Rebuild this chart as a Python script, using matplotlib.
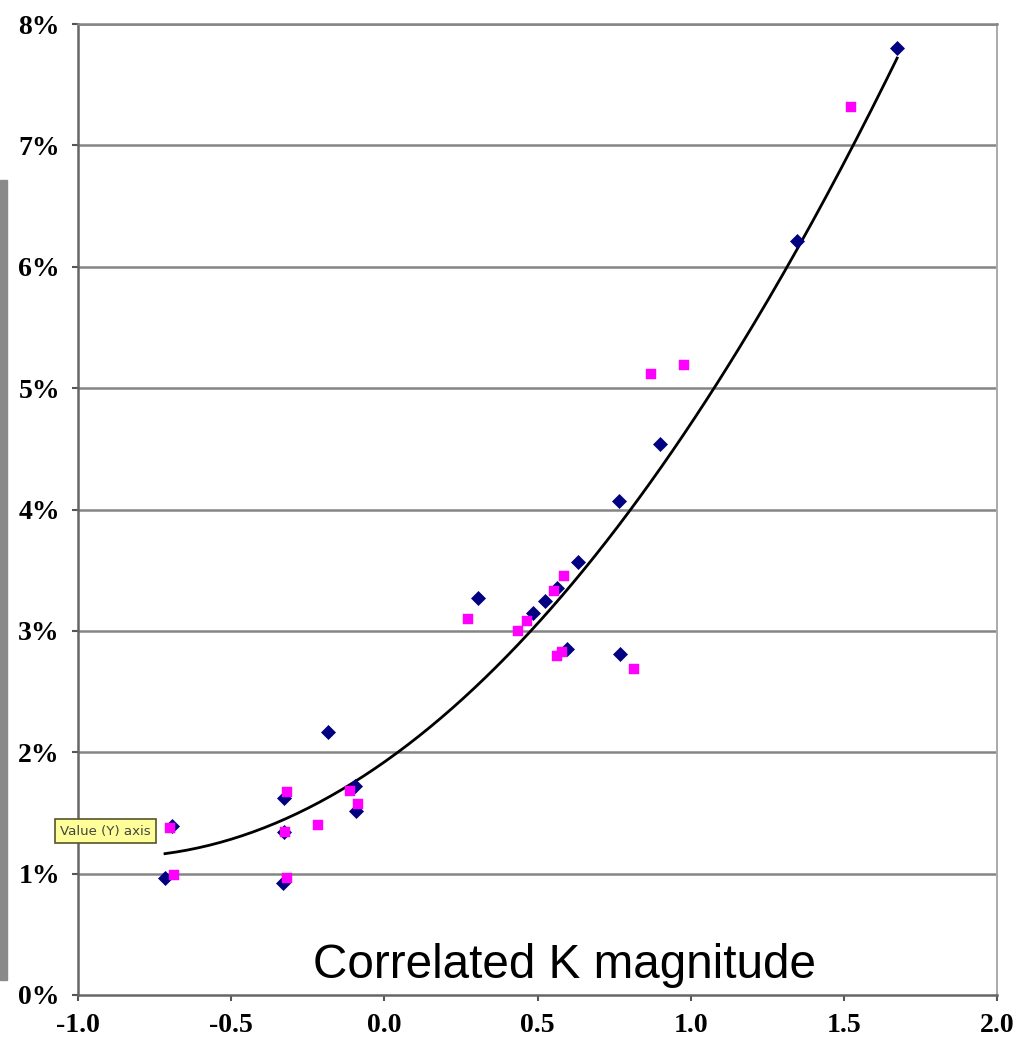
import numpy as np
import matplotlib
matplotlib.use("Agg")
import matplotlib.pyplot as plt
from matplotlib.patches import Rectangle

# Data
navy_x = [-0.716, -0.693, -0.327, -0.327, -0.331, -0.184, -0.096, -0.092,
          0.306, 0.486, 0.525, 0.564, 0.632, 0.596, 0.770, 0.766, 0.900,
          1.347, 1.674]
navy_y = [0.96, 1.39, 1.62, 1.34, 0.92, 2.17, 1.72, 1.52,
          3.27, 3.15, 3.25, 3.35, 3.57, 2.85, 2.81, 4.07, 4.54,
          6.21, 7.80]
pink_x = [-0.700, -0.687, -0.318, -0.324, -0.318, -0.216, -0.112, -0.086,
          0.273, 0.437, 0.466, 0.554, 0.587, 0.564, 0.580, 0.815, 0.871,
          0.978, 1.524]
pink_y = [1.38, 0.99, 1.67, 1.34, 0.96, 1.40, 1.68, 1.57,
          3.10, 3.00, 3.08, 3.33, 3.45, 2.79, 2.83, 2.69, 5.12,
          5.19, 7.32]
x_ticks = [-1.0, -0.5, 0.0, 0.5, 1.0, 1.5, 2.0]
y_ticks = [0, 1, 2, 3, 4, 5, 6, 7, 8]
y_tick_labels = [f"{v}%" for v in y_ticks]

W, H = 1017, 1040
fig = plt.figure(figsize=(W / 100, H / 100), dpi=100)
fig.patch.set_facecolor("white")
ax = fig.add_axes([78 / W, 1 - 995 / H, (997 - 78) / W, (995 - 24) / H])

ax.set_xlim(-1.0, 2.0)
ax.set_ylim(0, 8)

# gridlines
for v in y_ticks[1:]:
    ax.axhline(v, color="#858585", lw=1.8, zorder=1)

# trendline (2nd-order polynomial fit of the navy series)
coef = np.polyfit(navy_x, navy_y, 2)
xs = np.linspace(min(navy_x), max(navy_x), 200)
ax.plot(xs, np.polyval(coef, xs), color="black", lw=2.0, zorder=2)

ax.plot(navy_x, navy_y, linestyle="none", marker="D", ms=7.6,
        color="#000080", mec="#000080", mew=0.5, zorder=3)
ax.plot(pink_x, pink_y, linestyle="none", marker="s", ms=6.6,
        color="#ff00ff", mec="#ff00ff", mew=0.3, zorder=4)

ax.set_xticks(x_ticks)
ax.set_xticklabels([f"{v:.1f}" for v in x_ticks])
ax.set_yticks(y_ticks)
ax.set_yticklabels(y_tick_labels)
for lab in ax.get_xticklabels() + ax.get_yticklabels():
    lab.set_family("Liberation Serif")
    lab.set_weight("bold")
    lab.set_fontsize(20)
ax.tick_params(axis="both", direction="out", length=4, width=1.5, color="#555555")
ax.tick_params(axis="y", pad=9)
ax.tick_params(axis="x", pad=9)

for s in ["left", "bottom"]:
    ax.spines[s].set_color("#666666")
    ax.spines[s].set_linewidth(1.8)
ax.spines["right"].set_color("#aaaaaa")
ax.spines["right"].set_linewidth(1.4)
ax.spines["top"].set_color("#858585")
ax.spines["top"].set_linewidth(1.8)

# text label inside plot
ax.text(313 / W, 1 - 978 / H, "Correlated K magnitude", transform=fig.transFigure,
        family="Liberation Sans", fontsize=34.3, color="black",
        ha="left", va="baseline", zorder=6)

# yellow tooltip
fig.text(60 / W, 1 - 831 / H, "Value (Y) axis", family="DejaVu Sans",
         fontsize=9.6, color="#444444", ha="left", va="center", zorder=10,
         bbox=dict(boxstyle="square,pad=0.4", fc="#ffff99", ec="#55552a", lw=1.2))

# gray bar on left edge
fig.patches.append(Rectangle((0, 1 - 980 / H), 7 / W, (980 - 180) / H,
                             transform=fig.transFigure, color="#8a8a8a", zorder=0))

fig.savefig("out.png", dpi=100)
